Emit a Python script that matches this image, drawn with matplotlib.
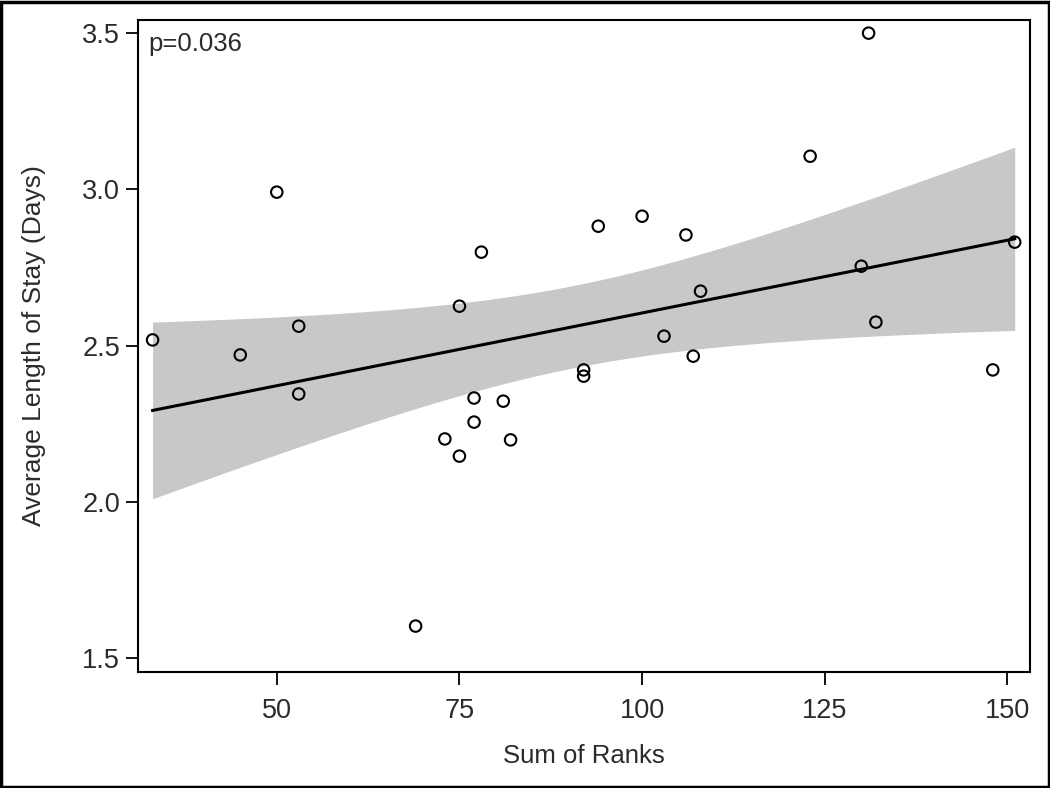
import numpy as np
import matplotlib
matplotlib.use("Agg")
import matplotlib.pyplot as plt
from matplotlib.patches import Rectangle

# data
sum_of_ranks = [33, 45, 50, 53, 53, 69, 73, 75, 75, 77, 77, 78, 81, 82,
                92, 92, 94, 100, 103, 106, 107, 108, 123, 130, 131, 132, 148, 151]
avg_los = [2.518, 2.470, 2.991, 2.562, 2.345, 1.602, 2.201, 2.626, 2.146, 2.332,
           2.255, 2.799, 2.322, 2.198, 2.422, 2.402, 2.882, 2.914, 2.530, 2.854,
           2.466, 2.674, 3.106, 2.754, 3.500, 2.575, 2.422, 2.831]
p_label = "p=0.036"

x = np.array(sum_of_ranks, dtype=float)
y = np.array(avg_los, dtype=float)

# linear fit + 95% confidence band of the mean
n = len(x)
slope, intercept = np.polyfit(x, y, 1)
resid = y - (intercept + slope * x)
s = np.sqrt(np.sum(resid ** 2) / (n - 2))
t_crit = 2.0555  # t(0.975, 26)
xs = np.linspace(x.min(), x.max(), 200)
ys = intercept + slope * xs
se = s * np.sqrt(1.0 / n + (xs - x.mean()) ** 2 / np.sum((x - x.mean()) ** 2))

plt.rcParams["font.family"] = ["Liberation Sans", "DejaVu Sans"]
txt = "#2b2b2b"

fig = plt.figure(figsize=(10.5, 7.88), dpi=100)
ax = fig.add_axes([0.1314, 0.1472, 0.8496, 0.8274])

ax.fill_between(xs, ys - t_crit * se, ys + t_crit * se, color="#c8c8c8", lw=0)
ax.plot(xs, ys, color="black", lw=2.2)
ax.scatter(x, y, s=68, facecolors="none", edgecolors="black", linewidths=1.5, zorder=3)

ax.set_xlim(31, 153.1)
ax.set_ylim(1.455, 3.542)
ax.set_xticks([50, 75, 100, 125, 150])
ax.set_yticks([1.5, 2.0, 2.5, 3.0, 3.5])
ax.set_yticklabels(["1.5", "2.0", "2.5", "3.0", "3.5"])
ax.tick_params(direction="out", length=9, width=1.3, labelsize=19.5,
               color="black", labelcolor=txt, pad=4)
ax.tick_params(axis="x", pad=10)
for sp in ax.spines.values():
    sp.set_linewidth(1.5)

ax.set_xlabel("Sum of Ranks", fontsize=18.5, labelpad=14, color=txt)
ax.set_ylabel("Average Length of Stay (Days)", fontsize=19, labelpad=26, color=txt)
ax.text(0.012, 0.982, p_label, transform=ax.transAxes, ha="left", va="top",
        fontsize=18.5, color=txt)

fig.patches.append(Rectangle((0.001, 0.001), 0.998, 0.997, transform=fig.transFigure,
                             fill=False, edgecolor="black", lw=2.5))

fig.savefig("out.png", dpi=100)
